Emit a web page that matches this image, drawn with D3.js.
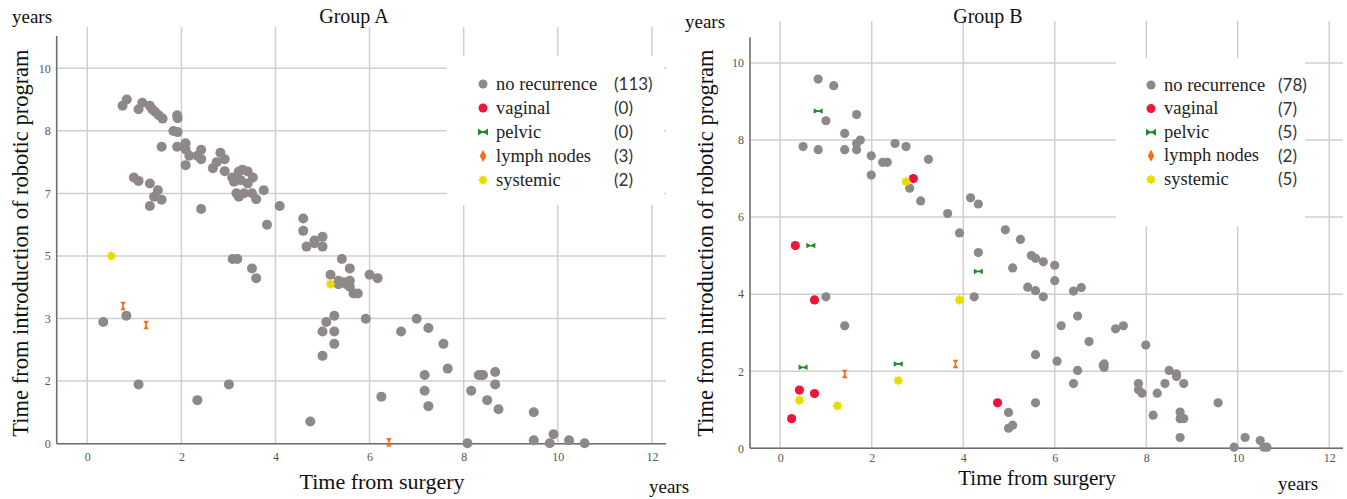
<!DOCTYPE html>
<html><head><meta charset="utf-8">
<script src="https://cdn.jsdelivr.net/npm/d3@7"></script>
<style>body{margin:0;background:#fff}svg{display:block}</style>
</head><body>
<svg id="chart" width="1347" height="499"></svg>
<script>
// ---------- data ----------
const categories = ["no recurrence", "vaginal", "pelvic", "lymph nodes", "systemic"];
const countsA = [113, 0, 0, 3, 2];
const countsB = [78, 7, 5, 2, 5];
const xTicks = [0, 2, 4, 6, 8, 10, 12];
const xTickLabels = ["0", "2", "4", "6", "8", "10", "12"];
const yTicksA = [0, 1.667, 3.333, 5, 6.667, 8.333, 10];
const yTickLabelsA = ["0", "2", "3", "5", "7", "8", "10"];
const yTicksB = [0, 2, 4, 6, 8, 10];
const yTickLabelsB = ["0", "2", "4", "6", "8", "10"];

const groupA_none = [
  [0.75,9.0],[0.84,9.17],[1.09,8.91],[1.17,9.08],[1.33,9.0],[1.38,8.91],[1.44,8.84],[1.52,8.75],
  [1.6,8.66],[1.91,8.75],[1.92,8.67],[1.83,8.33],[1.58,7.91],[1.91,7.91],[2.09,8.0],[2.09,7.84],
  [2.17,7.67],[2.09,7.42],[2.34,7.67],[2.42,7.83],[2.42,7.58],[2.67,7.34],[2.75,7.5],[2.83,7.75],
  [2.92,7.58],[2.92,7.26],[3.08,7.09],[3.15,7.02],[3.22,7.25],[3.26,7.02],[3.41,7.25],[3.52,7.09],
  [3.41,6.93],[3.17,6.67],[3.22,6.58],[3.33,6.67],[3.5,6.67],[3.59,6.51],[3.75,6.75],[0.99,7.09],
  [1.09,7.0],[1.33,6.93],[1.5,6.75],[1.42,6.58],[1.58,6.5],[1.33,6.33],[2.42,6.25],[4.09,6.33],
  [3.82,5.83],[4.59,6.0],[4.59,5.67],[4.66,5.25],[4.83,5.41],[4.83,5.34],[5.0,5.51],[5.0,5.25],
  [3.09,4.92],[3.19,4.92],[3.5,4.67],[3.59,4.41],[5.41,4.92],[5.58,4.67],[5.17,4.5],[5.34,4.34],
  [5.34,4.25],[5.51,4.25],[5.58,4.34],[5.58,4.18],[5.66,4.0],[5.75,4.0],[6.0,4.5],[6.17,4.41],
  [0.34,3.24],[0.83,3.41],[1.09,1.58],[2.34,1.16],[3.01,1.58],[4.74,0.59],[5.25,3.41],[5.08,3.24],
  [5.0,2.99],[5.25,2.99],[5.25,2.66],[5.0,2.34],[5.92,3.33],[6.25,1.25],[6.67,2.99],[7.0,3.33],
  [7.25,3.08],[7.17,1.83],[7.17,1.41],[7.25,1.0],[7.57,2.66],[7.66,2.0],[8.16,1.41],[8.32,1.83],
  [8.41,1.83],[8.67,1.91],[8.67,1.58],[8.5,1.16],[8.74,0.92],[8.08,0.01],[9.49,0.84],[9.49,0.09],
  [9.83,0.01],[9.91,0.25],[10.24,0.09],[10.57,0.01],[3.12,6.98],[3.3,7.3],[5.45,4.3],[8.37,1.83],
  [1.92,8.3]
];
const groupA_vaginal = [];
const groupA_pelvic = [];
const groupA_lymph = [[0.76,3.67],[1.25,3.16],[6.41,0.04]];
const groupA_systemic = [[0.51,5.0],[5.17,4.25]];

const groupB_none = [
  [0.83,9.58],[1.17,9.41],[1.0,8.5],[1.67,8.66],[1.41,8.17],[1.75,8.0],[1.67,7.91],[0.5,7.83],
  [0.83,7.75],[1.41,7.75],[1.67,7.75],[1.99,7.59],[1.99,7.09],[2.24,7.42],[2.34,7.42],[2.51,7.91],
  [2.75,7.83],[3.24,7.5],[2.83,6.75],[3.07,6.42],[3.66,6.09],[3.92,5.59],[4.16,6.5],[4.33,6.34],
  [4.92,5.67],[5.25,5.42],[4.33,5.08],[5.08,4.68],[5.49,5.0],[5.58,4.93],[5.75,4.84],[6.0,4.75],
  [6.0,4.35],[5.41,4.18],[5.58,4.09],[5.75,3.93],[4.24,3.93],[1.0,3.93],[1.41,3.18],[4.99,0.93],
  [4.99,0.52],[5.08,0.6],[5.58,2.43],[5.58,1.18],[6.05,2.26],[6.14,3.18],[6.41,4.08],[6.58,4.17],
  [6.5,3.43],[6.75,2.77],[7.33,3.1],[7.5,3.18],[7.99,2.68],[6.5,2.02],[6.41,1.68],[7.08,2.19],
  [7.08,2.1],[7.83,1.68],[7.83,1.52],[7.91,1.43],[8.24,1.43],[8.15,0.86],[8.41,1.68],[8.5,2.02],
  [8.66,1.93],[8.66,1.86],[8.82,1.68],[8.74,0.94],[8.74,0.77],[8.82,0.77],[8.74,0.28],[9.57,1.18],
  [9.92,0.03],[10.16,0.28],[10.49,0.2],[10.57,0.03],[10.64,0.03],[7.06,2.15]
];
const groupB_vaginal = [[0.33,5.26],[0.75,3.85],[0.42,1.51],[0.75,1.42],[0.25,0.77],[4.75,1.18],[2.91,7.0]];
const groupB_pelvic = [[0.83,8.75],[0.67,5.26],[4.33,4.59],[0.5,2.1],[2.58,2.19]];
const groupB_lymph = [[1.41,1.93],[3.83,2.19]];
const groupB_systemic = [[2.75,6.92],[3.92,3.85],[2.58,1.76],[0.42,1.25],[1.25,1.1]];

// ---------- styling ----------
const colors = ["#8e8888", "#f0143c", "#1a8c2a", "#ff6a13", "#e8dc00"];
const serif = "'Liberation Serif','DejaVu Serif',serif";
const sans = "Lato,'Open Sans',sans-serif";

function bowtiePath(w, h) {
  const a = w / 2, b = h / 2, c = b * 0.3, d = a * 0.25;
  return `M${-a},${-b}L${-a},${b}L${-d},${c}L${d},${c}L${a},${b}L${a},${-b}L${d},${-c}L${-d},${-c}Z`;
}
function hourglassPath(w, h) {
  const a = w / 2, b = h / 2, c = a * 0.3, d = b * 0.25;
  return `M${-a},${-b}L${a},${-b}L${c},${-d}L${c},${d}L${a},${b}L${-a},${b}L${-c},${d}L${-c},${-d}Z`;
}
function diamondPath(w, h) {
  return `M0,${-h/2}L${w/2},0L0,${h/2}L${-w/2},0Z`;
}
function starPath(ro, ri, n) {
  const pts = d3.range(n * 2).map(i => {
    const r = i % 2 === 0 ? ro : ri;
    const ang = Math.PI * i / n - Math.PI / 2;
    return [r * Math.cos(ang), r * Math.sin(ang)];
  });
  return "M" + pts.map(p => p[0].toFixed(2) + "," + p[1].toFixed(2)).join("L") + "Z";
}

const panels = [
  {
    title: "Group A", titleX: 354, titleY: 23,
    data: [groupA_none, groupA_vaginal, groupA_pelvic, groupA_lymph, groupA_systemic],
    counts: countsA, yTicks: yTicksA, yLabels: yTickLabelsA,
    xDomain: [-0.65, 12.3], xRange: [56.7, 666],
    yDomain: [0, 10.86], yRange: [443.7, 36], gridTop: 27,
    dotR: 5, xTickY: 461,
    yearsTop: [12, 23], yearsBottom: [649, 493],
    xTitle: [382, 489], yTitle: [28, 243], xTitleSize: 22,
    legend: {x: 447, y: 56, w: 217, h: 149, mx: 483, tx: 496, cx: 614, y0: 84, dy: 24}
  },
  {
    title: "Group B", titleX: 988, titleY: 23,
    data: [groupB_none, groupB_vaginal, groupB_pelvic, groupB_lymph, groupB_systemic],
    counts: countsB, yTicks: yTicksB, yLabels: yTickLabelsB,
    xDomain: [-0.66, 12.3], xRange: [750, 1343],
    yDomain: [0, 10.66], yRange: [448.3, 37.5], gridTop: 21,
    dotR: 4.6, xTickY: 462.5,
    yearsTop: [685, 28], yearsBottom: [1278, 490],
    xTitle: [1037, 484.5], yTitle: [713, 243], xTitleSize: 21,
    legend: {x: 1116, y: 58, w: 189, h: 168, mx: 1151, tx: 1164, cx: 1278, y0: 85, dy: 23.6}
  }
];

const svg = d3.select("#chart");

function marker(g, cat, x, y, r, legend) {
  const col = colors[cat];
  if (cat <= 1) {
    g.append("circle").attr("cx", x).attr("cy", y).attr("r", r).attr("fill", col);
  } else if (cat === 2) {
    g.append("path").attr("d", legend ? bowtiePath(10, 7) : bowtiePath(9, 5.5))
      .attr("transform", `translate(${x},${y})`).attr("fill", col);
  } else if (cat === 3) {
    g.append("path").attr("d", legend ? diamondPath(6.5, 12) : hourglassPath(5.5, 8.5))
      .attr("transform", `translate(${x},${y})`).attr("fill", col);
  } else {
    g.append("path").attr("d", starPath(r + 0.5, r * 0.78, 8))
      .attr("transform", `translate(${x},${y})`).attr("fill", col);
  }
}

panels.forEach(p => {
  const x = d3.scaleLinear().domain(p.xDomain).range(p.xRange);
  const y = d3.scaleLinear().domain(p.yDomain).range(p.yRange);
  const g = svg.append("g");

  // gridlines
  g.append("g").selectAll("line").data(xTicks).join("line")
    .attr("x1", d => x(d)).attr("x2", d => x(d))
    .attr("y1", p.gridTop).attr("y2", p.yRange[0])
    .attr("stroke", "#d0d0d0").attr("stroke-width", 1.5);
  g.append("g").selectAll("line").data(p.yTicks).join("line")
    .attr("x1", p.xRange[0]).attr("x2", p.xRange[1])
    .attr("y1", d => y(d)).attr("y2", d => y(d))
    .attr("stroke", "#d0d0d0").attr("stroke-width", 1.5);

  // axes via d3 axis generators
  const xAxis = d3.axisBottom(x).tickValues(xTicks).tickFormat((d, i) => xTickLabels[i]).tickSize(0).tickPadding(0);
  const gx = g.append("g").attr("transform", `translate(0,${p.yRange[0]})`).call(xAxis);
  gx.select(".domain").attr("d", `M${p.xRange[0]},0H${p.xRange[1]}`).attr("stroke", "#6e6e6e").attr("stroke-width", 1.6);
  gx.selectAll("text").attr("y", p.xTickY - p.yRange[0]).attr("dy", 0)
    .attr("font-family", serif).attr("font-size", 12).attr("fill", "#555");

  const yAxis = d3.axisLeft(y).tickValues(p.yTicks).tickFormat((d, i) => p.yLabels[i]).tickSize(0).tickPadding(6);
  const gy = g.append("g").attr("transform", `translate(${p.xRange[0]},0)`).call(yAxis);
  gy.select(".domain").attr("d", `M0,${p.yRange[1]}V${p.yRange[0]}`).attr("stroke", "#6e6e6e").attr("stroke-width", 1.6);
  gy.selectAll("text").attr("font-family", serif).attr("font-size", 12).attr("fill", "#555");

  // legend box
  const L = p.legend;
  g.append("rect").attr("x", L.x).attr("y", L.y).attr("width", L.w).attr("height", L.h).attr("fill", "#fff");
  categories.forEach((c, i) => {
    const yy = L.y0 + i * L.dy;
    marker(g, i, L.mx, yy, 4.5, true);
    g.append("text").attr("x", L.tx).attr("y", yy + 5.5).text(c)
      .attr("font-family", serif).attr("font-size", 18.5).attr("fill", "#222");
    g.append("text").attr("x", L.cx).attr("y", yy + 6).text(`(${p.counts[i]})`)
      .attr("font-family", sans).attr("font-size", 17).attr("fill", "#333");
  });

  // points
  p.data.forEach((arr, cat) => {
    arr.forEach(d => marker(g, cat, x(d[0]), y(d[1]), cat === 0 ? p.dotR : 4.6, false));
  });

  // texts
  g.append("text").attr("x", p.titleX).attr("y", p.titleY).attr("text-anchor", "middle").text(p.title)
    .attr("font-family", serif).attr("font-size", 20).attr("fill", "#111");
  g.append("text").attr("x", p.yearsTop[0]).attr("y", p.yearsTop[1]).text("years")
    .attr("font-family", serif).attr("font-size", 19).attr("fill", "#111");
  g.append("text").attr("x", p.yearsBottom[0]).attr("y", p.yearsBottom[1]).text("years")
    .attr("font-family", serif).attr("font-size", 19).attr("fill", "#111");
  g.append("text").attr("x", p.xTitle[0]).attr("y", p.xTitle[1]).attr("text-anchor", "middle")
    .text("Time from surgery").attr("font-family", serif).attr("font-size", p.xTitleSize).attr("fill", "#111");
  g.append("text").attr("transform", `translate(${p.yTitle[0]},${p.yTitle[1]}) rotate(-90)`)
    .attr("text-anchor", "middle").text("Time from introduction of robotic program")
    .attr("font-family", serif).attr("font-size", 22.5).attr("fill", "#111");
});
</script>
</body></html>
